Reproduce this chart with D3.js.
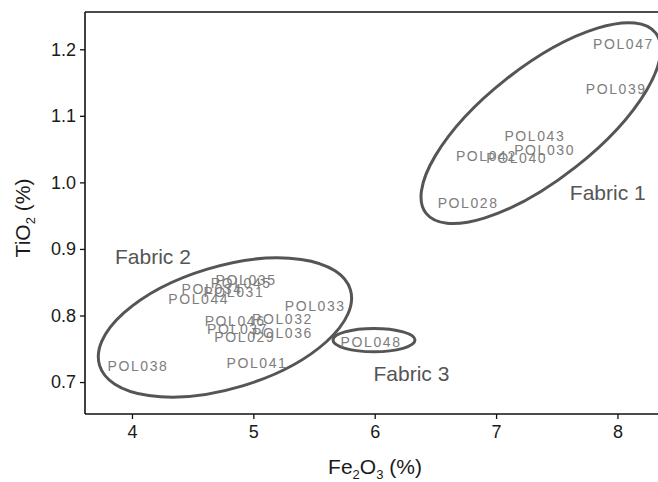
<!DOCTYPE html>
<html>
<head>
<meta charset="utf-8">
<script src="https://cdn.jsdelivr.net/npm/d3@7"></script>
<style>
  html, body { margin: 0; padding: 0; background: #fff; overflow: hidden; }
  svg { display: block; font-family: "Liberation Sans", Arial, sans-serif; }
</style>
</head>
<body>
<svg id="chart" width="658" height="482"></svg>
<script>
// ---- data ----
const sampleIds = ["POL047","POL039","POL043","POL030","POL042","POL040","POL028",
  "POL035","POL045","POL034","POL031","POL044","POL033","POL032","POL046","POL037","POL036","POL029","POL041","POL038",
  "POL048"];
const fe2o3 = [8.05, 7.99, 7.32, 7.40, 6.92, 7.17, 6.77,
  4.94, 4.90, 4.66, 4.84, 4.55, 5.51, 5.24, 4.85, 4.87, 5.24, 4.93, 5.03, 4.05,
  5.97];
const tio2 = [1.208, 1.140, 1.069, 1.049, 1.039, 1.037, 0.969,
  0.853, 0.849, 0.840, 0.836, 0.825, 0.815, 0.795, 0.791, 0.779, 0.774, 0.768, 0.729, 0.724,
  0.760];
const xTicks = [4, 5, 6, 7, 8];
const yTicks = [0.7, 0.8, 0.9, 1.0, 1.1, 1.2];
const groupNames = ["Fabric 1", "Fabric 2", "Fabric 3"];
const groupCenterFe = [7.369, 4.766, 5.994];
const groupCenterTi = [1.089, 0.782, 0.763];
const groupLabelFe = [7.608, 3.86, 5.99];
const groupLabelTi = [0.974, 0.878, 0.702];

// ---- layout ----
const svg = d3.select("#chart");
const mLeft = 85, mTop = 12, mBottom = 414, mRight = 666;
const x = d3.scaleLinear().domain([3.613, 8.4]).range([mLeft, mRight]);
const y = d3.scaleLinear().domain([0.652, 1.256]).range([mBottom, mTop]);

// ellipse shapes in pixels: semi-axes and rotation
const ellA = [146, 131, 41];
const ellB = [56, 61, 11.7];
const ellRot = [-38.2, -16.8, 0];

// frame
const xAxis = d3.axisBottom(x).tickValues(xTicks).tickFormat(d3.format("d")).tickSizeOuter(0).tickSize(5).tickPadding(6);
const yAxis = d3.axisLeft(y).tickValues(yTicks).tickFormat(d3.format(".1f")).tickSizeOuter(0).tickSize(5).tickPadding(4);

const gx = svg.append("g").attr("transform", `translate(0,${mBottom})`).call(xAxis);
const gy = svg.append("g").attr("transform", `translate(${mLeft},0)`).call(yAxis);
[gx, gy].forEach(g => {
  g.select(".domain").attr("stroke", "#111").attr("stroke-width", 1.6);
  g.selectAll(".tick line").attr("stroke", "#111").attr("stroke-width", 1.3);
  g.selectAll(".tick text").attr("fill", "#1a1a1a").attr("font-size", 18)
    .attr("font-family", "'Liberation Sans', Arial, sans-serif");
});
gx.select(".domain").attr("d", `M${mLeft},0H${mRight}`);
gy.select(".domain").attr("d", `M0,${mTop}V${mBottom}`);
svg.append("line").attr("x1", mLeft).attr("x2", mRight).attr("y1", mTop).attr("y2", mTop)
  .attr("stroke", "#111").attr("stroke-width", 1.6);

// ellipses
const ell = svg.append("g");
groupNames.forEach((g, i) => {
  ell.append("ellipse")
    .attr("transform", `translate(${x(groupCenterFe[i])},${y(groupCenterTi[i])}) rotate(${ellRot[i]})`)
    .attr("rx", ellA[i]).attr("ry", ellB[i])
    .attr("fill", "none").attr("stroke", "#555").attr("stroke-width", 3);
  svg.append("text")
    .attr("x", x(groupLabelFe[i])).attr("y", y(groupLabelTi[i]))
    .attr("fill", "#555").attr("font-size", 21)
    .text(g);
});

// sample labels
svg.append("g").selectAll("text").data(sampleIds).join("text")
  .attr("x", (d, i) => x(fe2o3[i]))
  .attr("y", (d, i) => y(tio2[i]))
  .attr("text-anchor", "middle")
  .attr("dominant-baseline", "central")
  .attr("fill", "#7d7d7d")
  .attr("font-size", 14)
  .attr("letter-spacing", 1.6)
  .text(d => d);

// axis titles
const xt = svg.append("text").attr("x", 375).attr("y", 474).attr("text-anchor", "middle")
  .attr("font-size", 21).attr("fill", "#1a1a1a");
xt.append("tspan").text("Fe");
xt.append("tspan").attr("font-size", 13).attr("dy", 5).text("2");
xt.append("tspan").attr("dy", -5).text("O");
xt.append("tspan").attr("font-size", 13).attr("dy", 5).text("3");
xt.append("tspan").attr("dy", -5).text(" (%)");

const yt = svg.append("text").attr("transform", "translate(30,218) rotate(-90)").attr("text-anchor", "middle")
  .attr("font-size", 21).attr("fill", "#1a1a1a");
yt.append("tspan").text("TiO");
yt.append("tspan").attr("font-size", 13).attr("dy", 5).text("2");
yt.append("tspan").attr("dy", -5).text(" (%)");
</script>
</body>
</html>
